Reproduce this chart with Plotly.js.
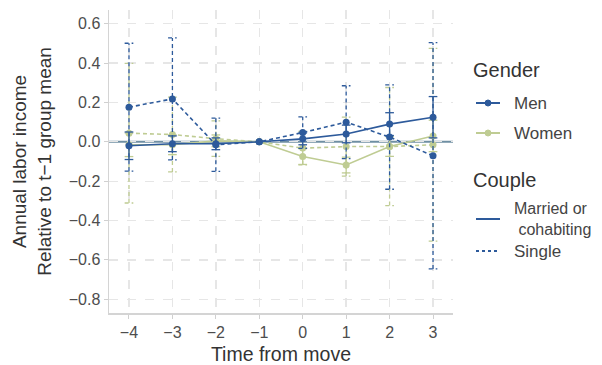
<!DOCTYPE html>
<html><head><meta charset="utf-8">
<script src="https://cdn.plot.ly/plotly-3.0.1.min.js"></script>
<style>html,body{margin:0;padding:0;background:#fff}#chart{width:602px;height:365px}</style>
</head><body><div id="chart"></div>
<script>
const times = [-4, -3, -2, -1, 0, 1, 2, 3];
const menMarried = [-0.02, -0.01, -0.01, 0, 0.015, 0.04, 0.09, 0.125];
const menMarriedErr = [0.07, 0.04, 0.03, 0, 0.03, 0.045, 0.058, 0.105];
const menSingle = [0.176, 0.218, -0.015, 0, 0.047, 0.10, 0.024, -0.071];
const menSingleErr = [0.325, 0.31, 0.135, 0, 0.08, 0.185, 0.265, 0.575];
const womenMarried = [-0.015, -0.015, 0.005, 0, -0.075, -0.118, -0.024, 0.03];
const womenMarriedErr = [0.06, 0.05, 0.03, 0, 0.04, 0.04, 0.05, 0.08];
const womenSingle = [0.044, 0.037, 0.016, 0, -0.032, -0.024, -0.024, -0.015];
const womenSingleErr = [0.355, 0.19, 0.09, 0, 0.085, 0.15, 0.30, 0.49];
const yTicks = [-0.8, -0.6, -0.4, -0.2, 0, 0.2, 0.4, 0.6];

const BLUE = '#2d5a9b', GREEN = '#bfcc93';
const DASH = '4px,3px';
const FONT = 'Liberation Sans, Arial, sans-serif';

function errTrace(y, e, color, dash) {
  const xs = [], ys = [], cw = 0.1;
  times.forEach((t, i) => {
    if (!e[i]) return;
    const lo = y[i] - e[i], hi = y[i] + e[i];
    xs.push(t, t, null, t - cw, t + cw, null, t - cw, t + cw, null);
    ys.push(lo, hi, null, hi, hi, null, lo, lo, null);
  });
  return {x: xs, y: ys, mode: 'lines', type: 'scatter', showlegend: false, hoverinfo: 'skip',
    line: {color: color, width: 1.3, dash: dash}};
}
function lineTrace(y, color, dash) {
  return {x: times, y: y, mode: 'lines+markers', type: 'scatter', showlegend: false,
    line: {color: color, width: 1.6, dash: dash}, marker: {color: color, size: 7}};
}

const data = [
  errTrace(womenSingle, womenSingleErr, GREEN, DASH),
  errTrace(womenMarried, womenMarriedErr, GREEN, 'solid'),
  lineTrace(womenSingle, GREEN, DASH),
  lineTrace(womenMarried, GREEN, 'solid'),
  errTrace(menSingle, menSingleErr, BLUE, DASH),
  errTrace(menMarried, menMarriedErr, BLUE, 'solid'),
  lineTrace(menSingle, BLUE, DASH),
  lineTrace(menMarried, BLUE, 'solid')
];

// manual legend (paper coords): px -> paper
const L = 109, W = 344, B = 313, H = 303;
const px = v => (v - L) / W, py = v => (B - v) / H;
const shapes = [
  {type: 'line', xref: 'x', yref: 'y', x0: -4.46, x1: 3.46, y0: 0, y1: 0, layer: 'below',
   line: {color: '#6f8fa3', width: 2}},
  {type: 'line', xref: 'paper', yref: 'paper', x0: px(476), x1: px(500), y0: py(103), y1: py(103), line: {color: BLUE, width: 2}},
  {type: 'circle', xref: 'paper', yref: 'paper', x0: px(485), x1: px(491), y0: py(100), y1: py(106), fillcolor: BLUE, line: {color: BLUE, width: 1}},
  {type: 'line', xref: 'paper', yref: 'paper', x0: px(476), x1: px(500), y0: py(133), y1: py(133), line: {color: GREEN, width: 2}},
  {type: 'circle', xref: 'paper', yref: 'paper', x0: px(485), x1: px(491), y0: py(130), y1: py(136), fillcolor: GREEN, line: {color: GREEN, width: 1}},
  {type: 'line', xref: 'paper', yref: 'paper', x0: px(476), x1: px(500), y0: py(219), y1: py(219), line: {color: BLUE, width: 2}},
  {type: 'line', xref: 'paper', yref: 'paper', x0: px(476), x1: px(500), y0: py(251), y1: py(251), line: {color: BLUE, width: 2, dash: '3px,3px'}}
];
const ann = (text, x, y, size, color) => ({text: text, xref: 'paper', yref: 'paper', x: px(x), y: py(y),
  xanchor: 'left', yanchor: 'middle', showarrow: false, align: 'left',
  font: {family: FONT, size: size, color: color}});
const annotations = [
  ann('Gender', 471, 70, 20, '#333'),
  ann('Men', 512, 103, 17, '#444'),
  ann('Women', 512, 133, 17, '#444'),
  ann('Couple', 471, 180, 20, '#333'),
  ann('Married or<br> cohabiting', 512, 219, 16, '#444'),
  ann('Single', 512, 251, 17, '#444')
];

const layout = {
  width: 602, height: 365,
  margin: {l: 109, r: 149, t: 10, b: 52},
  paper_bgcolor: '#fff', plot_bgcolor: '#fff',
  font: {family: FONT, color: '#4d4d4d'},
  showlegend: false,
  xaxis: {range: [-4.46, 3.46], tickvals: times, ticks: 'outside', ticklen: 4, tickcolor: '#d0d0d0', tickwidth: 1,
    showline: true, linecolor: '#d4d4d4', linewidth: 1.5, zeroline: false,
    showgrid: true, gridcolor: '#e6e6e6', griddash: 'dash', gridwidth: 1.3,
    tickfont: {size: 16, color: '#4d4d4d'},
    title: {text: 'Time from move', font: {size: 19.5, color: '#333'}, standoff: 9}},
  yaxis: {range: [-0.87, 0.67], tickvals: yTicks, tickformat: '.1f', ticks: 'outside', ticklen: 4, tickcolor: '#d0d0d0', tickwidth: 1,
    showline: true, linecolor: '#d4d4d4', linewidth: 1.5, zeroline: false,
    showgrid: true, gridcolor: '#e6e6e6', griddash: 'dash', gridwidth: 1.3,
    tickfont: {size: 16, color: '#4d4d4d'},
    title: {text: 'Annual labor income<br>Relative to t\u22121 group mean', font: {size: 19, color: '#333'}, standoff: 12}},
  shapes: shapes,
  annotations: annotations
};
Plotly.newPlot('chart', data, layout, {displayModeBar: false, staticPlot: true});
</script></body></html>
